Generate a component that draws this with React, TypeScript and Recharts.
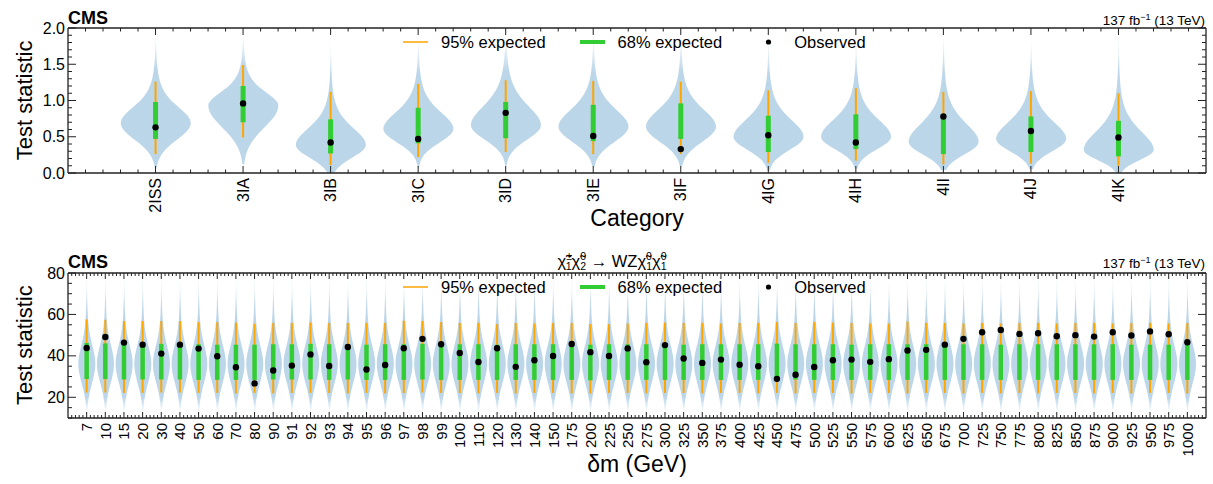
import React from 'react';
import { ComposedChart, Bar, Scatter, XAxis, YAxis, ErrorBar, Legend } from 'recharts';

const FONT = '"Liberation Sans", Arial, Helvetica, sans-serif';
const FRAME = '#222';
const VIOLIN = '#1f77b4';
const ORANGE = '#ffa500';
const GREEN = '#32cd32';

// ---- top panel: signal categories
const categories = ['2ISS', '3IA', '3IB', '3IC', '3ID', '3IE', '3IF', '4IG', '4IH', '4II', '4IJ', '4IK'];
const catObserved = [0.63, 0.96, 0.42, 0.47, 0.83, 0.51, 0.33, 0.52, 0.42, 0.78, 0.58, 0.49];
const cat95Lo = [0.26, 0.49, 0.11, 0.22, 0.29, 0.26, 0.26, 0.14, 0.17, 0.12, 0.13, 0.1];
const cat95Hi = [1.26, 1.49, 1.12, 1.23, 1.28, 1.27, 1.26, 1.14, 1.17, 1.12, 1.13, 1.1];
const cat68Lo = [0.47, 0.7, 0.27, 0.41, 0.48, 0.44, 0.47, 0.29, 0.33, 0.26, 0.29, 0.23];
const cat68Hi = [0.98, 1.2, 0.74, 0.9, 0.98, 0.94, 0.96, 0.79, 0.81, 0.78, 0.78, 0.72];
// toy distribution outline: lower cut, mode, spread below / above mode, upper cut
const catViolinLo = [0.08, 0.12, 0.0, 0.08, 0.1, 0.09, 0.09, 0.03, 0.06, 0.04, 0.05, 0.0];
const catViolinMode = [0.69, 0.93, 0.39, 0.61, 0.66, 0.64, 0.64, 0.5, 0.5, 0.43, 0.47, 0.32];
const catViolinSdLo = [0.23, 0.3, 0.18, 0.19, 0.2, 0.21, 0.21, 0.18, 0.17, 0.17, 0.17, 0.14];
const catViolinSdHi = [0.25, 0.21, 0.26, 0.26, 0.3, 0.27, 0.27, 0.27, 0.27, 0.29, 0.27, 0.29];
const catViolinHi = [1.93, 1.95, 1.85, 1.85, 1.88, 1.88, 1.88, 1.85, 1.82, 1.92, 1.85, 1.92];

// ---- bottom panel: mass splittings
const massLabels = [
  '7', '10', '15', '20', '30', '40', '50', '60', '70', '80',
  '90', '91', '92', '93', '94', '95', '96', '97', '98', '99',
  '100', '110', '120', '130', '140', '150', '175', '200', '225', '250',
  '275', '300', '325', '350', '375', '400', '425', '450', '475', '500',
  '525', '550', '575', '600', '625', '650', '675', '700', '725', '750',
  '775', '800', '825', '850', '875', '900', '925', '950', '975', '1000',
];
const massObserved = [
  43.8, 49.1, 46.4, 45.4, 41.1, 45.4, 43.5, 39.8, 34.5, 26.7,
  32.9, 35.3, 40.7, 35.1, 44.3, 33.4, 35.6, 43.7, 48.2, 45.6,
  41.4, 37.0, 43.7, 34.7, 37.9, 39.9, 45.7, 41.8, 39.9, 43.6,
  36.9, 45.2, 38.7, 36.6, 38.2, 35.7, 35.0, 28.9, 30.9, 34.6,
  37.9, 38.2, 37.1, 38.4, 42.6, 42.9, 45.4, 48.2, 51.4, 52.5,
  50.6, 50.9, 49.5, 50.0, 49.3, 51.4, 49.8, 51.8, 50.4, 46.6,
];
const mass95Hi = [
  57.6, 57.4, 56.8, 56.8, 56.8, 56.8, 56.3, 56.3, 56.1, 55.5,
  55.9, 55.9, 56.1, 55.9, 55.9, 55.9, 55.9, 57.0, 56.8, 56.3,
  55.9, 55.9, 55.3, 55.9, 55.6, 55.9, 55.9, 55.3, 55.3, 55.6,
  55.9, 56.1, 55.9, 55.9, 55.6, 55.9, 55.9, 56.3, 55.9, 56.3,
  56.1, 55.9, 55.6, 55.6, 56.6, 55.9, 55.9, 55.6, 55.9, 55.6,
  55.9, 55.9, 55.6, 55.9, 55.9, 55.6, 55.9, 55.9, 55.6, 55.9,
];
const mass95Lo = [
  22.3, 22.3, 22.1, 22.1, 22.3, 22.3, 22.1, 22.1, 21.9, 22.1,
  21.9, 22.1, 22.1, 22.1, 21.9, 22.1, 21.9, 22.1, 22.3, 22.1,
  22.1, 21.9, 22.1, 21.9, 22.1, 22.1, 21.9, 21.8, 22.1, 22.1,
  21.9, 22.1, 22.1, 21.9, 22.1, 22.1, 21.9, 22.1, 21.9, 22.1,
  22.1, 21.9, 22.1, 22.1, 21.9, 22.1, 22.1, 21.9, 22.1, 21.9,
  22.1, 21.9, 22.1, 22.1, 21.9, 22.1, 21.9, 22.1, 22.1, 21.9,
];
const mass68Hi = [
  46.2, 46.0, 45.8, 45.6, 45.8, 45.6, 45.6, 45.4, 45.4, 45.4,
  45.6, 45.6, 45.8, 45.6, 45.6, 45.4, 45.6, 45.6, 45.8, 45.6,
  45.6, 45.6, 45.4, 45.6, 45.6, 45.6, 45.8, 45.4, 45.6, 45.6,
  45.6, 45.8, 45.4, 45.6, 45.6, 45.6, 45.6, 45.9, 45.6, 45.6,
  45.6, 45.4, 45.6, 45.6, 45.6, 45.6, 45.6, 45.6, 45.6, 45.4,
  45.6, 45.6, 45.6, 45.6, 45.6, 45.6, 45.4, 45.4, 45.4, 45.6,
];
const mass68Lo = [
  28.8, 28.8, 28.6, 28.6, 28.6, 28.6, 28.4, 28.4, 28.4, 28.4,
  28.6, 28.6, 28.6, 28.4, 28.6, 28.4, 28.4, 28.4, 28.6, 28.4,
  28.4, 28.4, 28.4, 28.4, 28.4, 28.4, 28.4, 28.2, 28.4, 28.4,
  28.4, 28.4, 28.4, 28.4, 28.4, 28.4, 28.4, 28.4, 28.6, 28.4,
  28.4, 28.4, 28.4, 28.4, 28.4, 28.4, 28.4, 28.4, 28.4, 28.4,
  28.4, 28.4, 28.4, 28.4, 28.4, 28.4, 28.4, 28.4, 28.4, 28.4,
];
// the toy distributions have the same shape for every mass point
const massViolinLo = 12;
const massViolinMode = 36.3;
const massViolinSdLo = 9.5;
const massViolinSdHi = 10;
const massViolinHi = 79;

const legendItems = [
  { label: '95% expected', kind: '95' },
  { label: '68% expected', kind: '68' },
  { label: 'Observed', kind: 'obs' },
];

type Row = {
  x: number;
  obs: number;
  violin: [number, number];
  err95: [number, number];
  err68: [number, number];
  mode: number;
  sdLo: number;
  sdHi: number;
};

// error bars are hung on the observed point: [distance down, distance up]
const makeRow = (i: number, obs: number, vLo: number, vHi: number, lo95: number, hi95: number, lo68: number, hi68: number, mode: number, sdLo: number, sdHi: number): Row => ({
  x: i,
  obs,
  violin: [vLo, vHi],
  err95: [obs - lo95, hi95 - obs],
  err68: [obs - lo68, hi68 - obs],
  mode,
  sdLo,
  sdHi,
});

const topRows: Row[] = categories.map((_, i) =>
  makeRow(i, catObserved[i], catViolinLo[i], catViolinHi[i], cat95Lo[i], cat95Hi[i], cat68Lo[i], cat68Hi[i], catViolinMode[i], catViolinSdLo[i], catViolinSdHi[i])
);

const bottomRows: Row[] = massLabels.map((_, i) =>
  makeRow(i, massObserved[i], massViolinLo, massViolinHi, mass95Lo[i], mass95Hi[i], mass68Lo[i], mass68Hi[i], massViolinMode, massViolinSdLo, massViolinSdHi)
);

const range = (from: number, to: number, step: number) => {
  const out: number[] = [];
  for (let k = Math.round(from / step); k <= Math.round(to / step); k++) out.push(Number((k * step).toFixed(4)));
  return out;
};

function ViolinShape(props: any) {
  const { x, y, width, height, payload, fillId } = props;
  if (!payload || !Number.isFinite(height) || !Number.isFinite(y)) return null;
  const [lo, hi] = payload.violin as [number, number];
  const cx = x + width / 2;
  const half = width / 2;
  const toPx = (v: number) => y + (height * (hi - v)) / (hi - lo);
  const n = 90;
  const right: string[] = [];
  const left: string[] = [];
  for (let i = 0; i <= n; i++) {
    const v = lo + ((hi - lo) * i) / n;
    const d = v - payload.mode;
    const w = d < 0 ? Math.exp(-0.5 * (d / payload.sdLo) ** 2) : Math.pow(1 + (d / payload.sdHi) ** 2 / 4, -2.5);
    const py = toPx(v);
    right.push(`${(cx + half * w).toFixed(2)},${py.toFixed(2)}`);
    left.unshift(`${(cx - half * w).toFixed(2)},${py.toFixed(2)}`);
  }
  return <path d={`M${right.join('L')}L${left.join('L')}Z`} fill={`url(#${fillId})`} stroke="none" />;
}

const xTick = (labels: string[], side: 'top' | 'bottom', major: number, minor: number, fontSize: number) => (p: any) => {
  const v = p.payload.value;
  const isMajor = Math.abs(v - Math.round(v)) < 1e-6;
  const dir = side === 'bottom' ? -1 : 1;
  const label = side === 'bottom' && isMajor ? labels[Math.round(v)] : undefined;
  return (
    <g>
      <line x1={p.x} x2={p.x} y1={p.y} y2={p.y + dir * (isMajor ? major : minor)} stroke={FRAME} strokeWidth={1} />
      {label !== undefined && (
        <text
          transform={`translate(${p.x},${p.y + 5}) rotate(-90)`}
          textAnchor="end"
          dominantBaseline="central"
          fontSize={fontSize}
          fontFamily={FONT}
          fill="#000"
        >
          {label}
        </text>
      )}
    </g>
  );
};

const yTick = (side: 'left' | 'right', majorStep: number, fmt: (v: number) => string) => (p: any) => {
  const v = p.payload.value;
  const isMajor = Math.abs(v / majorStep - Math.round(v / majorStep)) < 1e-6;
  const dir = side === 'left' ? 1 : -1;
  return (
    <g>
      <line x1={p.x} x2={p.x + dir * (isMajor ? 8 : 4)} y1={p.y} y2={p.y} stroke={FRAME} strokeWidth={1} />
      {side === 'left' && isMajor && (
        <text x={p.x - 3} y={p.y} textAnchor="end" dominantBaseline="central" fontSize={16} fontFamily={FONT} fill="#000">
          {fmt(v)}
        </text>
      )}
    </g>
  );
};

function LegendContent() {
  return (
    <div style={{ display: 'flex', alignItems: 'center', fontFamily: FONT, fontSize: 16.5, color: '#000', lineHeight: '18px', whiteSpace: 'nowrap' }}>
      {legendItems.map((it) => (
        <div key={it.label} style={{ display: 'flex', alignItems: 'center', marginRight: 34 }}>
          <svg width={25} height={10} style={{ display: 'block' }}>
            {it.kind === 'obs' ? (
              <circle cx={12.5} cy={5} r={2.6} fill="#000" />
            ) : (
              <line x1={0} x2={25} y1={5} y2={5} stroke={it.kind === '95' ? ORANGE : GREEN} strokeWidth={it.kind === '95' ? 1.5 : 4} />
            )}
          </svg>
          <span style={{ marginLeft: 13 }}>{it.label}</span>
        </div>
      ))}
    </div>
  );
}

type PanelProps = {
  rows: Row[];
  labels: string[];
  yDomain: [number, number];
  yTicks: number[];
  yMajor: number;
  yFmt: (v: number) => string;
  height: number;
  marginTop: number;
  marginBottom: number;
  violinWidth: number;
  bar68: number;
  fillId: string;
  fadeBottom: boolean;
  legendTop: number;
  xMajor: number;
  xMinor: number;
  labelSize: number;
};

function Panel(pp: PanelProps) {
  const n = pp.labels.length;
  const xDomain: [number, number] = [-1, n];
  const xTicks = range(-0.8, n - 0.2, 0.2);
  const frame = { stroke: FRAME, strokeWidth: 1.3 };
  return (
    <ComposedChart
      width={1213}
      height={pp.height}
      data={pp.rows}
      margin={{ top: pp.marginTop, right: 6, bottom: pp.marginBottom, left: 28 }}
    >
      <defs>
        <linearGradient id={pp.fillId} x1="0" y1="0" x2="0" y2="1">
          <stop offset="0" stopColor={VIOLIN} stopOpacity={0} />
          <stop offset={pp.fadeBottom ? '0.2' : '0.27'} stopColor={VIOLIN} stopOpacity={0.3} />
          <stop offset={pp.fadeBottom ? '0.88' : '1'} stopColor={VIOLIN} stopOpacity={0.3} />
          <stop offset="1" stopColor={VIOLIN} stopOpacity={pp.fadeBottom ? 0 : 0.3} />
        </linearGradient>
      </defs>
      <XAxis
        xAxisId="main"
        type="number"
        dataKey="x"
        domain={xDomain}
        ticks={xTicks}
        interval={0}
        height={50}
        tickSize={0}
        tickMargin={0}
        tickLine={false}
        axisLine={frame}
        tick={xTick(pp.labels, 'bottom', pp.xMajor, pp.xMinor, pp.labelSize)}
      />
      <XAxis
        xAxisId="top"
        orientation="top"
        type="number"
        dataKey="x"
        domain={xDomain}
        ticks={xTicks}
        interval={0}
        height={1}
        tickSize={0}
        tickMargin={0}
        tickLine={false}
        axisLine={frame}
        tick={xTick(pp.labels, 'top', pp.xMajor, pp.xMinor, pp.labelSize)}
      />
      <YAxis
        yAxisId="l"
        type="number"
        domain={pp.yDomain}
        ticks={pp.yTicks}
        interval={0}
        width={40}
        tickSize={0}
        tickMargin={0}
        tickLine={false}
        axisLine={frame}
        tick={yTick('left', pp.yMajor, pp.yFmt)}
      />
      <YAxis
        yAxisId="r"
        orientation="right"
        type="number"
        domain={pp.yDomain}
        ticks={pp.yTicks}
        interval={0}
        width={1}
        tickSize={0}
        tickMargin={0}
        tickLine={false}
        axisLine={frame}
        tick={yTick('right', pp.yMajor, pp.yFmt)}
      />
      <Bar
        xAxisId="main"
        yAxisId="l"
        dataKey="violin"
        barSize={pp.violinWidth}
        isAnimationActive={false}
        shape={(p: any) => <ViolinShape {...p} fillId={pp.fillId} />}
      />
      <Scatter
        xAxisId="main"
        yAxisId="l"
        dataKey="obs"
        isAnimationActive={false}
        shape={(p: any) => <circle cx={p.cx} cy={p.cy} r={3.2} fill="#000" />}
      >
        <ErrorBar dataKey="err95" direction="y" width={0} stroke={ORANGE} strokeWidth={2} />
        <ErrorBar dataKey="err68" direction="y" width={0} stroke={GREEN} strokeWidth={pp.bar68} />
      </Scatter>
      {/* keeps the mirrored top / right axes bound to the same data */}
      <Scatter xAxisId="top" yAxisId="r" dataKey="obs" isAnimationActive={false} shape={() => <g />} />
      <Legend
        layout="horizontal"
        verticalAlign="middle"
        align="center"
        content={() => <LegendContent />}
        wrapperStyle={{ top: pp.legendTop, left: 403, width: 'auto' }}
      />
    </ComposedChart>
  );
}

function Lumi({ y }: { y: number }) {
  return (
    <text x={1205} y={y} textAnchor="end" fontSize={13.5} fontFamily={FONT} fill="#000">
      137 fb<tspan fontSize={9} dy={-5}>−1</tspan>
      <tspan dy={5}> (13 TeV)</tspan>
    </text>
  );
}

export default function App() {
  return (
    <div style={{ position: 'absolute', left: 0, top: 0, width: 1213, height: 484, background: '#fff', fontFamily: FONT }}>
      <div style={{ position: 'absolute', left: 0, top: 0 }}>
        <Panel
          rows={topRows}
          labels={categories}
          yDomain={[0, 2]}
          yTicks={range(0, 2, 0.1)}
          yMajor={0.5}
          yFmt={(v) => v.toFixed(1)}
          height={240}
          marginTop={27}
          marginBottom={17}
          violinWidth={70}
          bar68={5}
          fillId="fadeTop"
          fadeBottom={false}
          legendTop={33}
          xMajor={7}
          xMinor={3.5}
          labelSize={16}
        />
      </div>
      <div style={{ position: 'absolute', left: 0, top: 242 }}>
        <Panel
          rows={bottomRows}
          labels={massLabels}
          yDomain={[10, 80]}
          yTicks={range(10, 80, 5)}
          yMajor={20}
          yFmt={(v) => String(v)}
          height={242}
          marginTop={30}
          marginBottom={16}
          violinWidth={17}
          bar68={4.5}
          fillId="fadeBoth"
          fadeBottom={true}
          legendTop={36}
          xMajor={6}
          xMinor={3}
          labelSize={15}
        />
      </div>
      <svg width={1213} height={484} style={{ position: 'absolute', left: 0, top: 0, pointerEvents: 'none' }}>
        <text x={68} y={24} fontSize={18} fontWeight="bold" fontFamily={FONT} fill="#000">CMS</text>
        <Lumi y={24.5} />
        <text transform="translate(32,100.4) rotate(-90)" textAnchor="middle" fontSize={22} fontFamily={FONT} fill="#000">Test statistic</text>
        <text x={637} y={226} textAnchor="middle" fontSize={23} fontFamily={FONT} fill="#000">Category</text>

        <text x={68} y={267.5} fontSize={18} fontWeight="bold" fontFamily={FONT} fill="#000">CMS</text>
        <Lumi y={268} />
        <text x={612} y={266.5} textAnchor="middle" fontSize={16.5} fontFamily={FONT} fill="#000">
          χ̃<tspan fontSize={10.5} dy={-7}>±</tspan>
          <tspan fontSize={10.5} dx={-6.2} dy={10}>1</tspan>
          <tspan dy={-3}>χ̃</tspan>
          <tspan fontSize={10.5} dy={-7}>0</tspan>
          <tspan fontSize={10.5} dx={-5.8} dy={10}>2</tspan>
          <tspan dy={-3}> → WZχ̃</tspan>
          <tspan fontSize={10.5} dy={-7}>0</tspan>
          <tspan fontSize={10.5} dx={-5.8} dy={10}>1</tspan>
          <tspan dy={-3}>χ̃</tspan>
          <tspan fontSize={10.5} dy={-7}>0</tspan>
          <tspan fontSize={10.5} dx={-5.8} dy={10}>1</tspan>
        </text>
        <text transform="translate(32,345.2) rotate(-90)" textAnchor="middle" fontSize={22} fontFamily={FONT} fill="#000">Test statistic</text>
        <text x={637} y={472} textAnchor="middle" fontSize={23} fontFamily={FONT} fill="#000">δm (GeV)</text>
      </svg>
    </div>
  );
}
